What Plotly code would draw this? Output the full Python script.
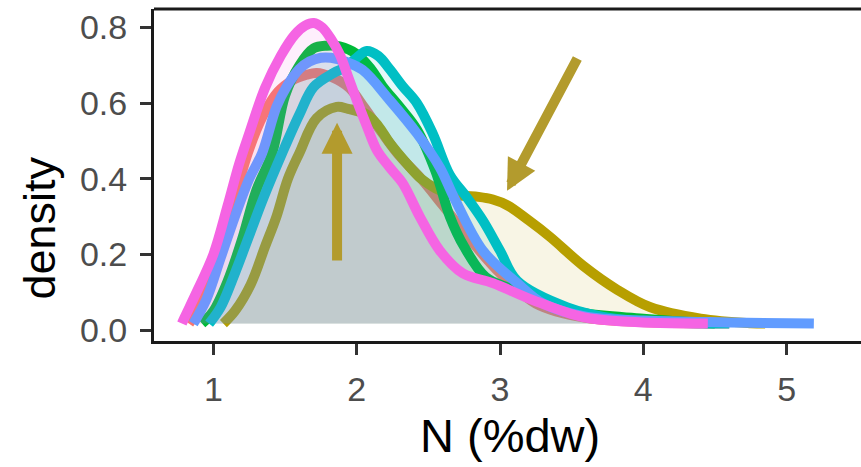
import plotly.graph_objects as go

# ---- data ----
GROUPS = ["g1", "g2", "g3", "g4", "g5", "g6"]
COLORS = ["#F8766D", "#B79F00", "#00BA38", "#00BFC4", "#619CFF", "#F564E3"]

red_x = [0.83, 0.90, 1.00, 1.10, 1.24, 1.35, 1.45, 1.55, 1.65, 1.72, 1.82, 1.95, 2.05, 2.18, 2.30, 2.45, 2.60, 2.79, 3.00, 3.25, 3.60, 4.10, 4.60]
red_y = [0.017, 0.06, 0.16, 0.28, 0.468, 0.57, 0.63, 0.66, 0.675, 0.68, 0.67, 0.64, 0.59, 0.52, 0.46, 0.40, 0.33, 0.24, 0.15, 0.07, 0.032, 0.02, 0.017]

olive_x = [1.07, 1.15, 1.26, 1.36, 1.44, 1.52, 1.60, 1.72, 1.86, 1.94, 2.07, 2.15, 2.23, 2.35, 2.45, 2.55, 2.65, 2.75, 2.85, 2.95, 3.05, 3.20, 3.35, 3.58, 3.82, 4.05, 4.40, 4.75, 4.85]
olive_y = [0.017, 0.05, 0.12, 0.22, 0.30, 0.40, 0.468, 0.56, 0.59, 0.585, 0.57, 0.54, 0.495, 0.44, 0.40, 0.375, 0.36, 0.355, 0.352, 0.345, 0.33, 0.29, 0.246, 0.17, 0.106, 0.06, 0.03, 0.018, 0.017]

green_x = [0.92, 1.00, 1.10, 1.20, 1.30, 1.41, 1.50, 1.60, 1.70, 1.79, 1.88, 2.00, 2.10, 2.18, 2.30, 2.42, 2.55, 2.65, 2.75, 2.90, 3.07, 3.30, 3.58, 4.00, 4.50]
green_y = [0.017, 0.05, 0.13, 0.24, 0.37, 0.468, 0.62, 0.70, 0.745, 0.752, 0.75, 0.73, 0.69, 0.645, 0.59, 0.53, 0.42, 0.30, 0.22, 0.14, 0.11, 0.075, 0.045, 0.03, 0.017]

cyan_x = [0.97, 1.05, 1.15, 1.25, 1.35, 1.48, 1.60, 1.70, 1.84, 1.92, 2.00, 2.07, 2.15, 2.23, 2.32, 2.42, 2.53, 2.65, 2.77, 2.88, 3.00, 3.12, 3.47, 3.80, 4.20, 4.60]
cyan_y = [0.017, 0.06, 0.15, 0.25, 0.35, 0.468, 0.57, 0.643, 0.68, 0.695, 0.72, 0.738, 0.725, 0.69, 0.645, 0.60, 0.52, 0.41, 0.35, 0.29, 0.21, 0.13, 0.06, 0.03, 0.02, 0.017]

blue_x = [0.86, 0.95, 1.05, 1.15, 1.25, 1.34, 1.44, 1.51, 1.60, 1.67, 1.75, 1.82, 1.92, 2.04, 2.23, 2.42, 2.58, 2.68, 2.88, 3.12, 3.30, 3.60, 4.00, 4.60, 5.19]
blue_y = [0.017, 0.08, 0.19, 0.30, 0.40, 0.468, 0.59, 0.643, 0.69, 0.71, 0.72, 0.72, 0.71, 0.688, 0.608, 0.52, 0.43, 0.35, 0.21, 0.124, 0.07, 0.035, 0.025, 0.02, 0.017]

magenta_x = [0.78, 0.80, 0.89, 1.00, 1.10, 1.18, 1.25, 1.36, 1.47, 1.57, 1.64, 1.70, 1.76, 1.82, 1.88, 1.94, 2.00, 2.07, 2.14, 2.23, 2.32, 2.44, 2.58, 2.74, 2.95, 3.23, 3.58, 3.90, 4.45]
magenta_y = [0.017, 0.034, 0.106, 0.20, 0.33, 0.44, 0.52, 0.64, 0.725, 0.782, 0.805, 0.812, 0.80, 0.77, 0.73, 0.67, 0.608, 0.54, 0.476, 0.43, 0.389, 0.30, 0.21, 0.15, 0.124, 0.079, 0.034, 0.022, 0.017]

SERIES_X = [red_x, olive_x, green_x, cyan_x, blue_x, magenta_x]
SERIES_Y = [red_y, olive_y, green_y, cyan_y, blue_y, magenta_y]

X_TICKS = [1, 2, 3, 4, 5]
Y_TICKS = [0.0, 0.2, 0.4, 0.6, 0.8]
Y_TICK_TEXT = ["0.0", "0.2", "0.4", "0.6", "0.8"]
X_TITLE = "N (%dw)"
Y_TITLE = "density"

# arrows: (tail x, tail y, tip x, tip y)
ARROWS = [(1.863, 0.18, 1.863, 0.548), (3.545, 0.722, 3.049, 0.368)]
ARROW_COLOR = "#B39B2D"

X_RANGE = [0.5855, 5.519]
Y_RANGE = [-0.0291, 0.849]


def rgba(hex_color, a):
    h = hex_color.lstrip("#")
    r, g, b = int(h[0:2], 16), int(h[2:4], 16), int(h[4:6], 16)
    return f"rgba({r},{g},{b},{a})"


fig = go.Figure()
for name, col, xs, ys in zip(GROUPS, COLORS, SERIES_X, SERIES_Y):
    fig.add_trace(go.Scatter(
        x=xs, y=ys, mode="lines", fill="toself", fillcolor=rgba(col, 0.1),
        line=dict(width=0, shape="spline", smoothing=1.0), hoverinfo="skip",
        showlegend=False, name=name))
    fig.add_trace(go.Scatter(
        x=xs, y=ys, mode="lines",
        line=dict(color=col, width=10, shape="spline", smoothing=1.0),
        showlegend=False, name=name))

annotations = []
for tx, ty, hx, hy in ARROWS:
    annotations.append(dict(
        x=hx, y=hy, ax=tx, ay=ty, xref="x", yref="y", axref="x", ayref="y",
        showarrow=True, arrowhead=2, arrowsize=0.62, arrowwidth=10,
        arrowcolor=ARROW_COLOR, text=""))

FONT = "Liberation Sans, Arial, sans-serif"
annotations.append(dict(
    text=Y_TITLE, xref="paper", yref="paper", x=-0.162, y=0.34,
    xanchor="center", yanchor="middle", textangle=-90, showarrow=False,
    font=dict(size=45, color="black", family=FONT)))
annotations.append(dict(
    text=X_TITLE, xref="paper", yref="paper", x=0.503, y=-0.285,
    xanchor="center", yanchor="middle", showarrow=False,
    font=dict(size=47, color="black", family=FONT)))

tickfont = dict(size=34, color="#4D4D4D", family=FONT)

fig.update_layout(
    width=861, height=467,
    margin=dict(l=154, r=0, t=9, b=126),
    paper_bgcolor="white", plot_bgcolor="white",
    showlegend=False,
    annotations=annotations,
    shapes=[dict(type="line", xref="paper", yref="paper", x0=0, x1=1, y0=1, y1=1,
                 line=dict(color="#1a1a1a", width=3))],
    xaxis=dict(range=X_RANGE, tickvals=X_TICKS, ticks="outside", ticklen=11,
               tickwidth=3, tickcolor="#333333", showline=True, linecolor="#1a1a1a",
               linewidth=3, showgrid=False, zeroline=False, tickfont=tickfont,
               ticklabelstandoff=5),
    yaxis=dict(range=Y_RANGE, tickvals=Y_TICKS, ticktext=Y_TICK_TEXT, ticks="outside",
               ticklen=11, tickwidth=3, tickcolor="#333333", showline=True,
               linecolor="#1a1a1a", linewidth=3, showgrid=False, zeroline=False,
               tickfont=tickfont, ticklabelstandoff=6),
)

fig.write_html("out.html")
